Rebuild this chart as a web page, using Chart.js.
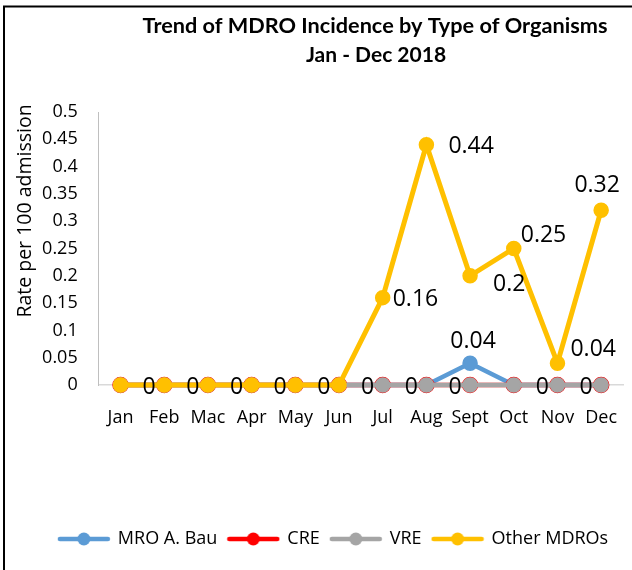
<!DOCTYPE html>
<html>
<head>
<meta charset="utf-8">
<title>Trend of MDRO Incidence</title>
<script src="https://cdn.jsdelivr.net/npm/chart.js@4.4.1/dist/chart.umd.min.js"></script>
<style>
  html, body { margin: 0; padding: 0; background: #fff; }
  #wrap { width: 632px; height: 570px; }
</style>
</head>
<body>
<div id="wrap"><canvas id="mdroChart" width="632" height="570"></canvas></div>
<script>
const months = ['Jan', 'Feb', 'Mac', 'Apr', 'May', 'Jun', 'Jul', 'Aug', 'Sept', 'Oct', 'Nov', 'Dec'];
const mroABau = [0, 0, 0, 0, 0, 0, 0, 0, 0.04, 0, 0, 0];
const cre = [0, 0, 0, 0, 0, 0, 0, 0, 0, 0, 0, 0];
const vre = [0, 0, 0, 0, 0, 0, 0, 0, 0, 0, 0, 0];
const otherMdros = [0, 0, 0, 0, 0, 0, 0.16, 0.44, 0.2, 0.25, 0.04, 0.32];
const yTickLabels = ['0', '0.05', '0.1', '0.15', '0.2', '0.25', '0.3', '0.35', '0.4', '0.45', '0.5'];

const titleLines = ['Trend of MDRO Incidence by Type of Organisms', 'Jan - Dec 2018'];
const yTitle = 'Rate per 100 admission';

const colors = ['#5b9bd5', '#ff0000', '#a5a5a5', '#ffc000'];

// where each value label sits relative to its point: [dx, dy, align], null = no label
const mroLabelPos = [
  [22, 2, 'left'], [22, 2, 'left'], [22, 2, 'left'], [22, 2, 'left'], [22, 2, 'left'], [22, 2, 'left'],
  [22, 2, 'left'], [22, 2, 'left'], [3, -22, 'center'], [22, 2, 'left'], [22, 2, 'left'], null
];
const otherLabelPos = [
  null, null, null, null, null, null,
  [10, 2, 'left'], [22, 2, 'left'], [23, 9, 'left'], [7, -13, 'left'], [13, -14, 'left'], [-4, -25, 'center']
];

const FONT = "'Open Sans', sans-serif";

// legend symbol: short line with a dot, like the series
function legendIcon(color) {
  const c = document.createElement('canvas');
  c.width = 54; c.height = 14;
  const g = c.getContext('2d');
  g.strokeStyle = color; g.lineWidth = 4.5; g.lineCap = 'round';
  g.beginPath(); g.moveTo(3, 7); g.lineTo(51, 7); g.stroke();
  g.fillStyle = color;
  g.beginPath(); g.arc(27, 7, 6.5, 0, Math.PI * 2); g.fill();
  return c;
}
const legendIcons = colors.map(legendIcon);

const decorPlugin = {
  id: 'decor',
  beforeDraw(chart) {
    const ctx = chart.ctx;
    ctx.save();
    ctx.strokeStyle = '#000';
    ctx.lineWidth = 2;
    ctx.beginPath();
    ctx.moveTo(4, 570); ctx.lineTo(4, 6.5); ctx.lineTo(632, 6.5);
    ctx.stroke();
    ctx.restore();
  },
  afterDraw(chart) {
    const ctx = chart.ctx;
    ctx.save();
    ctx.fillStyle = '#000';
    ctx.textAlign = 'center';
    ctx.textBaseline = 'middle';
    ctx.font = "bold 21.7px Lato, sans-serif";
    ctx.fillText(titleLines[0], 375, 26);
    ctx.font = "bold 21px Lato, sans-serif";
    ctx.fillText(titleLines[1], 376, 55);
    ctx.translate(25, 211);
    ctx.rotate(-Math.PI / 2);
    ctx.font = '19.5px ' + FONT;
    ctx.fillText(yTitle, 0, 0);
    ctx.restore();
  }
};

const valueLabels = {
  id: 'valueLabels',
  afterDatasetsDraw(chart) {
    const ctx = chart.ctx;
    const sets = [[0, mroLabelPos], [3, otherLabelPos]];
    ctx.save();
    ctx.fillStyle = '#000';
    ctx.font = '23px ' + FONT;
    ctx.textBaseline = 'middle';
    sets.forEach(([di, pos]) => {
      const meta = chart.getDatasetMeta(di);
      const data = chart.data.datasets[di].data;
      meta.data.forEach((pt, i) => {
        const p = pos[i];
        if (!p) return;
        ctx.textAlign = p[2];
        ctx.fillText(String(data[i]), pt.x + p[0], pt.y + p[1]);
      });
    });
    ctx.restore();
  }
};

function series(label, data, color, order, extra) {
  return Object.assign({
    label, data, order,
    clip: false,
    borderColor: color,
    backgroundColor: color,
    borderWidth: 4.5,
    pointRadius: 7,
    pointBorderWidth: 1.5,
    pointBackgroundColor: color,
    pointBorderColor: color,
    tension: 0
  }, extra || {});
}

const ctx = document.getElementById('mdroChart').getContext('2d');

new Chart(ctx, {
  type: 'line',
  data: {
    labels: months,
    datasets: [
      series('MRO A. Bau', mroABau, colors[0], 3),
      series('CRE', cre, colors[1], 2, { pointRadius: 7.5 }),
      series('VRE', vre, colors[2], 1),
      series('Other MDROs', otherMdros, colors[3], 0, { borderWidth: 5 })
    ]
  },
  options: {
    responsive: false,
    animation: false,
    devicePixelRatio: 1,
    layout: { padding: { left: 40, right: 5, top: 112, bottom: 12 } },
    scales: {
      x: {
        offset: true,
        grid: { display: false, drawTicks: false },
        border: { color: '#d9d9d9', width: 1.5 },
        ticks: { color: '#000', font: { family: FONT, size: 18 }, padding: 22, maxRotation: 0, autoSkip: false },
        afterFit(scale) { scale.height = 134; scale.paddingLeft = 0; scale.paddingRight = 0; }
      },
      y: {
        min: 0,
        max: 0.5,
        grid: { display: false, drawTicks: false },
        border: { color: '#bfbfbf', width: 1 },
        ticks: {
          stepSize: 0.05,
          color: '#000',
          font: { family: FONT, size: 18 },
          padding: 21,
          callback: (v, i) => yTickLabels[i]
        },
        afterFit(scale) { scale.width = 58.7; }
      }
    },
    plugins: {
      title: { display: false },
      tooltip: { enabled: false },
      legend: {
        position: 'bottom',
        labels: {
          color: '#000',
          font: { family: FONT, size: 18 },
          usePointStyle: true,
          pointStyleWidth: 50,
          padding: 11,
          sort: (a, b) => a.datasetIndex - b.datasetIndex,
          generateLabels(chart) {
            const items = Chart.defaults.plugins.legend.labels.generateLabels(chart);
            items.forEach(it => { it.pointStyle = legendIcons[it.datasetIndex]; });
            return items;
          }
        }
      }
    }
  },
  plugins: [decorPlugin, valueLabels]
});
</script>
</body>
</html>
